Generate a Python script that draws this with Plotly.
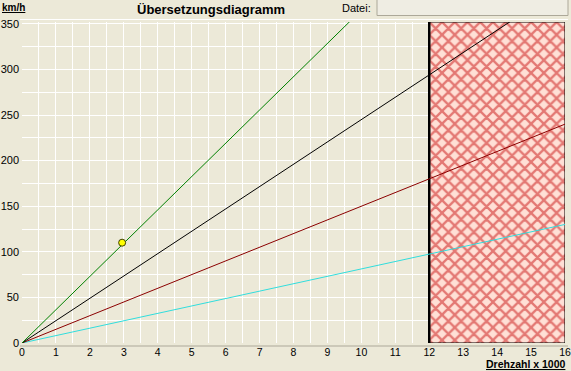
import plotly.graph_objects as go

# ---- data ----
rpm = [0, 16]                      # Drehzahl x 1000
gear_green = [0, 584]              # km/h at 0 and 16
gear_black = [0, 392]
gear_red = [0, 240]
gear_cyan = [0, 130]
point_x = [2.95]
point_y = [110]
redline_start = 12
redline_end = 16
x_ticks = list(range(0, 17))
y_ticks = [0, 50, 100, 150, 200, 250, 300, 350]
title_text = "Übersetzungsdiagramm"
y_title = "km/h"
x_title = "Drehzahl x 1000"
datei_label = "Datei:"

W, H = 571, 371
ML, MR, MT, MB = 22, 6, 22, 28
PW, PH = W - ML - MR, H - MT - MB
YMAX = 352

def px(x):
    return (x - ML) / PW

def py(y):
    return (H - MB - y) / PH

BG = "#ECE9D8"
fig = go.Figure()

# red-line (hatched) region
fig.add_trace(go.Scatter(
    x=[redline_start, redline_end, redline_end, redline_start, redline_start],
    y=[0, 0, YMAX, YMAX, 0],
    mode="lines", fill="toself",
    line=dict(color="black", width=1),
    fillcolor="#FFE2D8",
    fillpattern=dict(shape="x", fgcolor="#C81010", bgcolor="#FFE0D6",
                     size=9, solidity=0.45),
    hoverinfo="skip", showlegend=False))
fig.add_trace(go.Scatter(
    x=[redline_start, redline_start], y=[0, YMAX], mode="lines",
    line=dict(color="black", width=2.5), hoverinfo="skip", showlegend=False))

for ys, col in [(gear_cyan, "#30DDDD"), (gear_red, "#8B0000"),
                (gear_black, "#000000"), (gear_green, "#008000")]:
    fig.add_trace(go.Scatter(x=rpm, y=ys, mode="lines",
                             line=dict(color=col, width=1), showlegend=False))

fig.add_trace(go.Scatter(x=point_x, y=point_y, mode="markers",
                         marker=dict(color="#FFFF00", size=7,
                                     line=dict(color="#404000", width=1)),
                         showlegend=False))

font = dict(family="Liberation Sans, Arial, sans-serif", size=11, color="black")
xfont = dict(family="Liberation Sans, Arial, sans-serif", size=10.5, color="black")

fig.update_layout(
    width=W, height=H,
    margin=dict(l=ML, r=MR, t=MT, b=MB, autoexpand=False),
    paper_bgcolor=BG, plot_bgcolor=BG,
    font=font,
    showlegend=False,
    xaxis=dict(range=[0, 16], tickvals=x_ticks, showgrid=True,
               gridcolor="white", gridwidth=1, zeroline=False,
               showline=False, ticks="", tickfont=xfont, automargin=False,
               ticklabeloverflow="allow", ticklabelstandoff=1,
               minor=dict(dtick=0.5, showgrid=True, gridcolor="white", gridwidth=1),
               fixedrange=True),
    yaxis=dict(range=[0, YMAX], tickvals=y_ticks, showgrid=True,
               gridcolor="white", gridwidth=1, zeroline=False,
               showline=False, ticks="", tickfont=font, ticklabelstandoff=2,
               automargin=False, ticklabeloverflow="allow",
               minor=dict(dtick=25, showgrid=True, gridcolor="white", gridwidth=1),
               fixedrange=True),
)

shapes = [
    # bottom sunken frame line
    dict(type="line", xref="paper", yref="paper", x0=px(20), x1=px(568),
         y0=py(346), y1=py(346), line=dict(color="#ACA899", width=1)),
    # top white line
    dict(type="line", xref="paper", yref="paper", x0=px(20), x1=px(568),
         y0=py(19.5), y1=py(19.5), line=dict(color="white", width=1)),
    # Datei box
    dict(type="rect", xref="paper", yref="paper", x0=px(377), x1=px(568),
         y0=py(15.5), y1=py(-1), fillcolor="#EFEDE3",
         line=dict(color="#ACA899", width=1)),
]
fig.update_layout(shapes=shapes)

annotations = [
    dict(text="<b>" + title_text + "</b>", xref="paper", yref="paper",
         x=px(211), y=py(9), xanchor="center", yanchor="middle", showarrow=False,
         font=dict(family="Liberation Sans, Arial, sans-serif", size=13, color="black")),
    dict(text="<b><u>" + y_title + "</u></b>", xref="paper", yref="paper",
         x=px(0), y=py(7), xanchor="left", yanchor="middle", showarrow=False,
         font=dict(family="Liberation Sans, Arial, sans-serif", size=10, color="black")),
    dict(text="<b><u>" + x_title + "</u></b>", xref="paper", yref="paper",
         x=px(567), y=py(371), xanchor="right", yanchor="bottom", showarrow=False,
         borderpad=0,
         font=dict(family="Liberation Sans, Arial, sans-serif", size=10.5, color="black")),
    dict(text=datei_label, xref="paper", yref="paper",
         x=px(373), y=py(8), xanchor="right", yanchor="middle", showarrow=False,
         font=font),
]
fig.update_layout(annotations=annotations)

fig.write_html("out.html", config={"displayModeBar": False},
               post_script="document.body.style.margin='0';"
                           "document.body.style.overflow='hidden';"
                           "document.body.style.background='#ECE9D8';")
